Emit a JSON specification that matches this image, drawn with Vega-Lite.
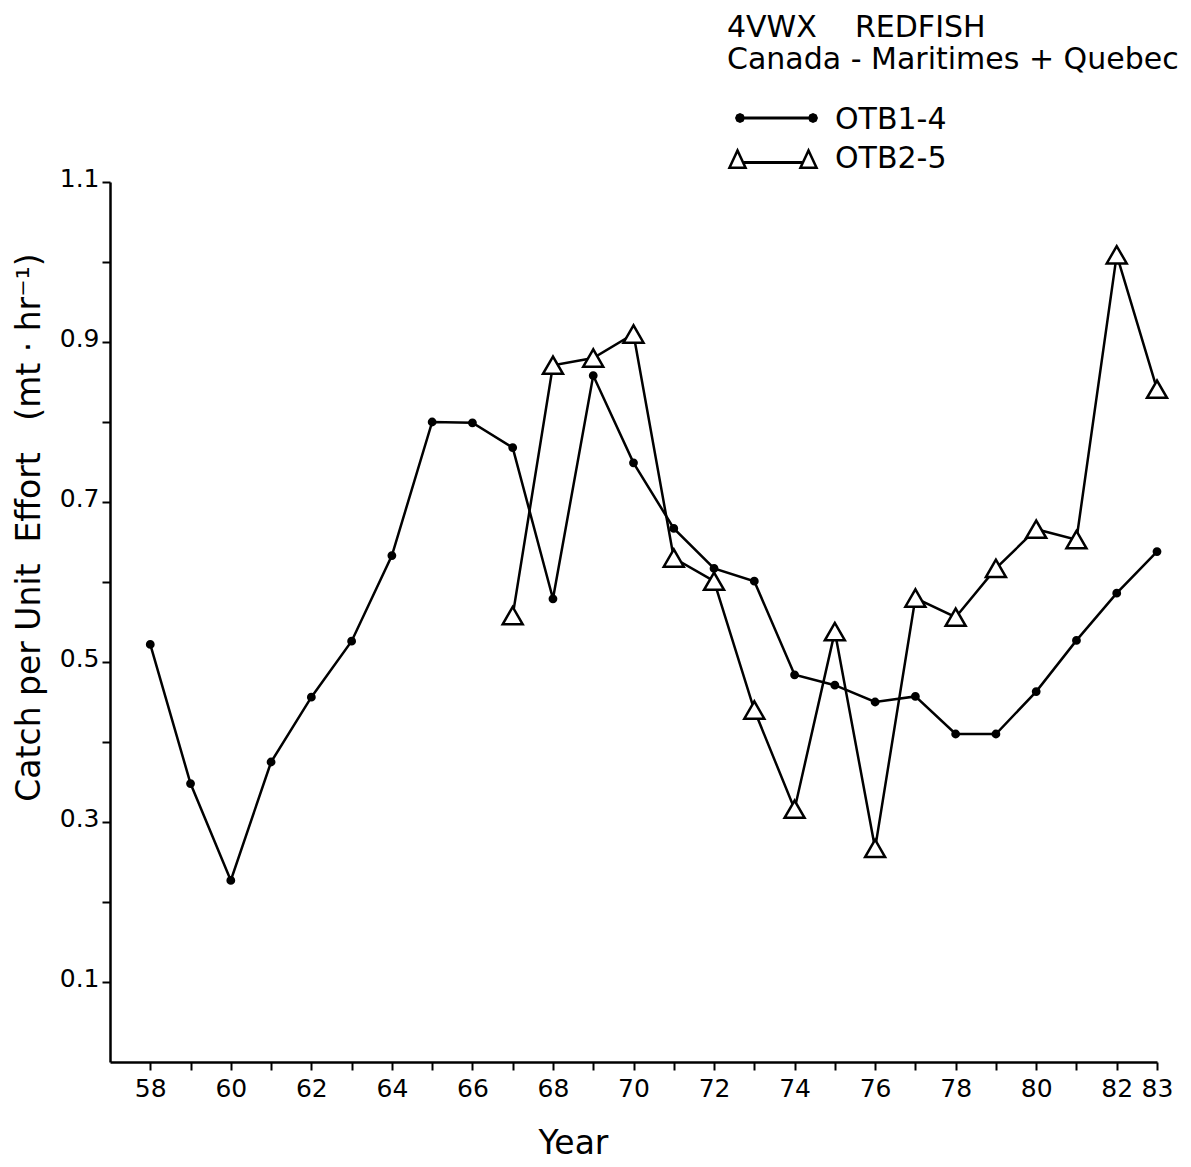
{
  "$schema": "https://vega.github.io/schema/vega-lite/v6.json",
  "width": 1047,
  "height": 880,
  "autosize": {"type": "none"},
  "padding": {"left": 110, "top": 182, "right": 34, "bottom": 105},
  "background": "white",
  "config": {
    "view": {"stroke": null},
    "font": "DejaVu Sans",
    "axis": {
      "domainColor": "black", "domainWidth": 2.5, "tickColor": "black", "tickWidth": 2,
      "tickSize": 8, "labelFont": "DejaVu Sans", "labelFontSize": 25, "labelColor": "black",
      "titleFont": "DejaVu Sans", "titleFontWeight": "normal", "titleColor": "black", "grid": false
    }
  },
  "data": {
    "values": [
      {"year": 58, "series": "OTB1-4", "cpue": 0.522},
      {"year": 59, "series": "OTB1-4", "cpue": 0.348},
      {"year": 60, "series": "OTB1-4", "cpue": 0.227},
      {"year": 61, "series": "OTB1-4", "cpue": 0.375},
      {"year": 62, "series": "OTB1-4", "cpue": 0.456},
      {"year": 63, "series": "OTB1-4", "cpue": 0.526},
      {"year": 64, "series": "OTB1-4", "cpue": 0.633},
      {"year": 65, "series": "OTB1-4", "cpue": 0.800},
      {"year": 66, "series": "OTB1-4", "cpue": 0.799},
      {"year": 67, "series": "OTB1-4", "cpue": 0.768},
      {"year": 68, "series": "OTB1-4", "cpue": 0.579},
      {"year": 69, "series": "OTB1-4", "cpue": 0.858},
      {"year": 70, "series": "OTB1-4", "cpue": 0.749},
      {"year": 71, "series": "OTB1-4", "cpue": 0.667},
      {"year": 72, "series": "OTB1-4", "cpue": 0.617},
      {"year": 73, "series": "OTB1-4", "cpue": 0.601},
      {"year": 74, "series": "OTB1-4", "cpue": 0.484},
      {"year": 75, "series": "OTB1-4", "cpue": 0.471},
      {"year": 76, "series": "OTB1-4", "cpue": 0.450},
      {"year": 77, "series": "OTB1-4", "cpue": 0.457},
      {"year": 78, "series": "OTB1-4", "cpue": 0.410},
      {"year": 79, "series": "OTB1-4", "cpue": 0.410},
      {"year": 80, "series": "OTB1-4", "cpue": 0.463},
      {"year": 81, "series": "OTB1-4", "cpue": 0.527},
      {"year": 82, "series": "OTB1-4", "cpue": 0.586},
      {"year": 83, "series": "OTB1-4", "cpue": 0.638},
      {"year": 67, "series": "OTB2-5", "cpue": 0.558},
      {"year": 68, "series": "OTB2-5", "cpue": 0.871},
      {"year": 69, "series": "OTB2-5", "cpue": 0.880},
      {"year": 70, "series": "OTB2-5", "cpue": 0.910},
      {"year": 71, "series": "OTB2-5", "cpue": 0.630},
      {"year": 72, "series": "OTB2-5", "cpue": 0.601},
      {"year": 73, "series": "OTB2-5", "cpue": 0.440},
      {"year": 74, "series": "OTB2-5", "cpue": 0.316},
      {"year": 75, "series": "OTB2-5", "cpue": 0.538},
      {"year": 76, "series": "OTB2-5", "cpue": 0.267},
      {"year": 77, "series": "OTB2-5", "cpue": 0.580},
      {"year": 78, "series": "OTB2-5", "cpue": 0.556},
      {"year": 79, "series": "OTB2-5", "cpue": 0.617},
      {"year": 80, "series": "OTB2-5", "cpue": 0.666},
      {"year": 81, "series": "OTB2-5", "cpue": 0.653},
      {"year": 82, "series": "OTB2-5", "cpue": 1.009},
      {"year": 83, "series": "OTB2-5", "cpue": 0.841}
    ]
  },
  "encoding": {
    "x": {
      "field": "year", "type": "quantitative",
      "scale": {"domain": [57, 83], "nice": false, "zero": false},
      "axis": {
        "title": "Year", "titleFontSize": 33, "titleX": 463, "titleY": 91,
        "titleBaseline": "alphabetic", "titleAlign": "center",
        "values": [58,59,60,61,62,63,64,65,66,67,68,69,70,71,72,73,74,75,76,77,78,79,80,81,82,83],
        "labelExpr": "(datum.value % 2 == 0 || datum.value == 83) ? format(datum.value, 'd') : ''",
        "labelPadding": 6, "labelFlush": false, "labelOverlap": false
      }
    },
    "y": {
      "field": "cpue", "type": "quantitative",
      "scale": {"domain": [0, 1.1], "nice": false, "zero": true},
      "axis": {
        "title": "Catch per Unit\u00a0 Effort\u00a0\u00a0 (mt · hr⁻¹)", "titleFontSize": 33,
        "titleAngle": 270, "titleX": -71, "titleY": 345, "titleBaseline": "alphabetic", "titleAlign": "center",
        "titleLimit": 2000,
        "values": [0.1,0.2,0.3,0.4,0.5,0.6,0.7,0.8,0.9,1.0,1.1],
        "labelExpr": "(round(datum.value * 10) % 2 == 1) ? format(datum.value, '.1f') : ''",
        "labelPadding": 3, "labelOffset": -4, "labelFlush": false, "labelOverlap": false
      }
    }
  },
  "layer": [
    {
      "mark": {"type": "line", "color": "black", "strokeWidth": 2.5},
      "encoding": {"detail": {"field": "series", "type": "nominal"}}
    },
    {
      "transform": [{"filter": "datum.series === 'OTB1-4'"}],
      "mark": {"type": "point", "shape": "circle", "filled": true, "fill": "black", "stroke": "black", "strokeWidth": 2.5, "size": 40, "opacity": 1}
    },
    {
      "transform": [{"filter": "datum.series === 'OTB2-5'"}],
      "mark": {"type": "point", "shape": "triangle-up", "filled": true, "fill": "white", "stroke": "black", "strokeWidth": 2.5, "size": 400, "opacity": 1}
    },
    {
      "mark": {"type": "point", "filled": true, "fill": "black", "opacity": 0},
      "encoding": {
        "shape": {
          "field": "series", "type": "nominal",
          "scale": {"domain": ["OTB1-4", "OTB2-5"], "range": [
            "M-3.0,-0.2L-3.146,0.154L-3.5,0.3L-3.854,0.154L-4.0,-0.2L-3.854,-0.554L-3.5,-0.7L-3.146,-0.554Z M-3.5,-0.35L3.8,-0.35L3.8,-0.05L-3.5,-0.05Z M4.3,-0.2L4.154,0.154L3.8,0.3L3.446,0.154L3.3,-0.2L3.446,-0.554L3.8,-0.7L4.154,-0.554Z",
            "M-3.75,-1.1L-2.75,1.05L-4.75,1.05Z M-3.75,-0.507L-4.358,0.8L-3.142,0.8Z M3.35,-1.1L4.35,1.05L2.35,1.05Z M3.35,-0.507L2.742,0.8L3.958,0.8Z M-3.1,0.25L2.7,0.25L2.7,0.55L-3.1,0.55Z"
          ]},
          "legend": {
            "title": ["4VWX\u00a0\u00a0\u00a0\u00a0REDFISH", "Canada - Maritimes + Quebec"],
            "orient": "none", "legendX": 617, "legendY": -169, "direction": "vertical",
            "titleFont": "DejaVu Sans", "titleFontSize": 30, "titleFontWeight": "normal", "titleColor": "black",
            "titleLineHeight": 32, "titlePadding": 30, "titleAnchor": "start", "titleAlign": "left",
            "titleLimit": 2000, "labelLimit": 2000,
            "labelFont": "DejaVu Sans", "labelFontSize": 30, "labelColor": "black",
            "symbolSize": 400, "symbolOffset": 33, "labelOffset": 45, "symbolOpacity": 1,
            "symbolFillColor": "black", "symbolStrokeWidth": 0,
            "rowPadding": 8.5
          }
        }
      }
    }
  ]
}
